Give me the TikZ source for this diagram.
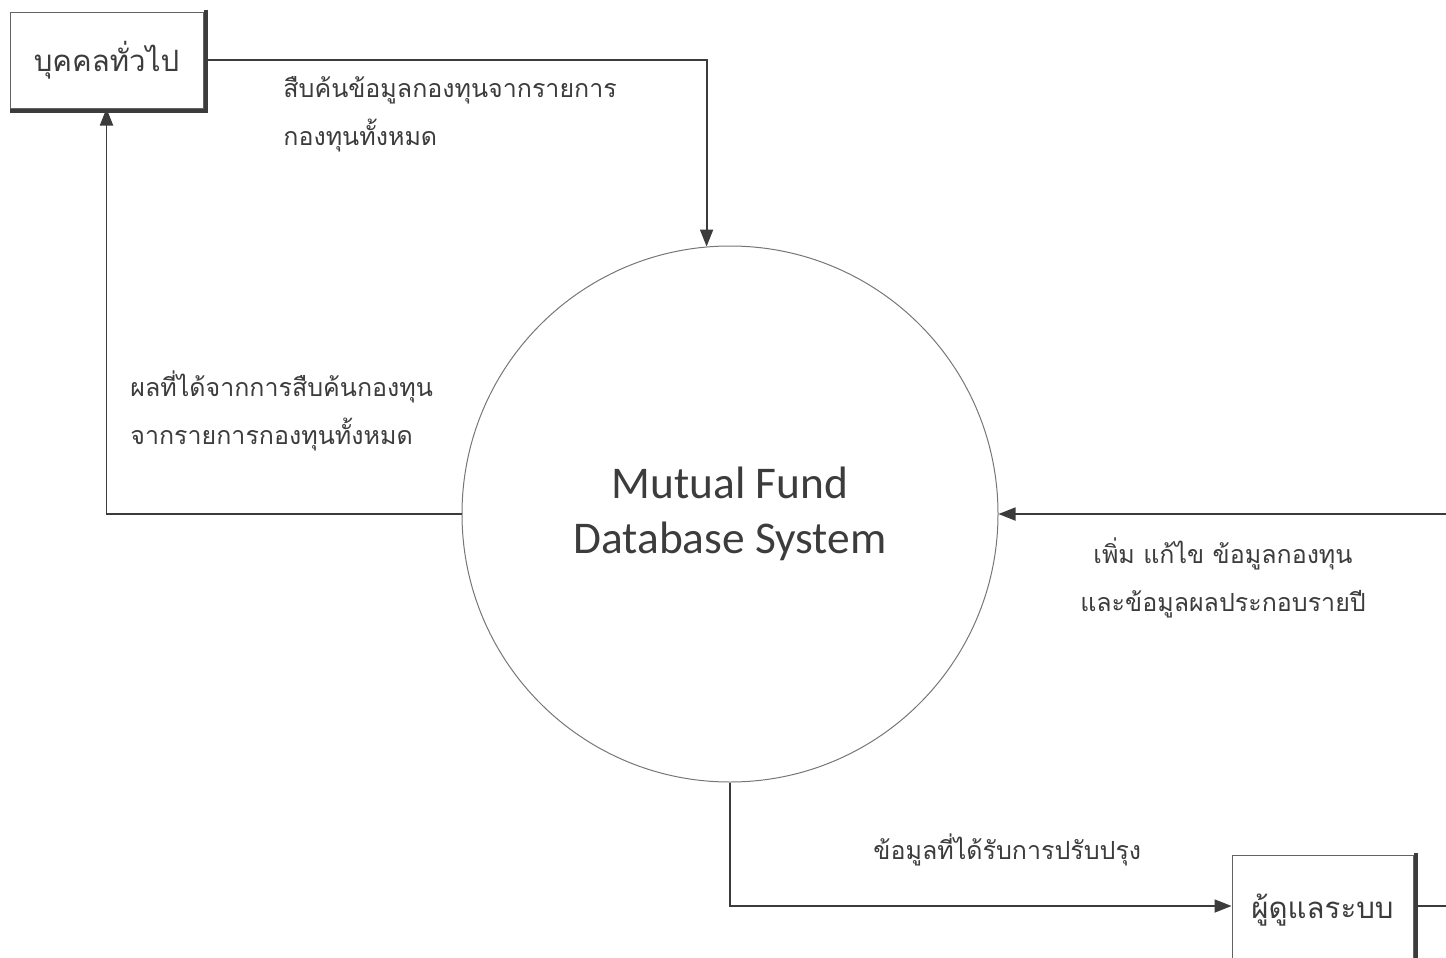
\documentclass[tikz,border=0pt]{standalone}
\usepackage{fontspec}
\newfontfamily\thaifont[Script=Thai]{Loma}
\newfontfamily\calibrifont{Carlito}
\usetikzlibrary{arrows.meta}
\definecolor{linec}{HTML}{3C3C3C}
\tikzset{
  entity/.style={draw=linec!80, line width=0.5pt, fill=white, text=linec, font=\thaifont\fontsize{14.7}{18}\selectfont, inner sep=0pt},
  flow/.style={draw=linec, line width=0.9pt, -{Triangle[width=6.5pt,length=8.5pt]}},
  plainflow/.style={draw=linec, line width=0.9pt},
  lbl/.style={font=\thaifont\fontsize{12.5}{24}\selectfont, text=linec, inner sep=0pt},
  shade/.style={draw=linec, line width=2pt},
}
\begin{document}
\begin{tikzpicture}[x=0.5pt,y=-0.5pt]
\useasboundingbox (0,0) rectangle (1446,958);
\clip (0,0) rectangle (1446,958);
% entities
\node[entity, minimum width=96.5pt, minimum height=48pt] (b1) at (106.5,60) {บุคคลทั่วไป};
\draw[shade] ([xshift=1pt,yshift=1pt]b1.north east) -- ([xshift=1pt,yshift=-1pt]b1.south east) -- ([yshift=-1pt]b1.south west);
\node[entity, minimum width=90.5pt, minimum height=55pt] (b2) at (1322.5,910) {ผู้ดูแลระบบ};
\draw[shade] ([xshift=1pt,yshift=1pt]b2.north east) -- ([xshift=1pt]b2.south east);
% process
\node[circle, draw=linec!70, line width=0.5pt, minimum size=268pt, inner sep=0pt, align=center,
      font=\calibrifont\fontsize{22.7}{27.5}\selectfont, text=linec] (c) at (730,514) {Mutual Fund\\Database System};
% edge coordinates
\coordinate (rin) at (1446,514);
\coordinate (rout) at (1446,906);
% flows
\draw[flow] (b1.east) -| (c.95);
\draw[flow] (c.west) -| (b1.south);
\draw[flow] (rin) -- (c.east);
\draw[flow] (c.south) |- (b2.west |- 0,906);
\draw[plainflow] (b2.east |- 0,906) -- (rout);
% labels
\node[lbl, anchor=west, align=left] (l1) at (283,114) {สืบค้นข้อมูลกองทุนจากรายการ\\กองทุนทั้งหมด};
\node[lbl, anchor=west, align=left] (l2) at (130,411) {ผลที่ได้จากการสืบค้นกองทุน\\จากรายการกองทุนทั้งหมด};
\node[lbl, align=center] (l3) at (1223,578) {เพิ่ม แก้ไข ข้อมูลกองทุน\\และข้อมูลผลประกอบรายปี};
\node[lbl, anchor=west] (l4) at (873,850) {ข้อมูลที่ได้รับการปรับปรุง};
\end{tikzpicture}
\end{document}
